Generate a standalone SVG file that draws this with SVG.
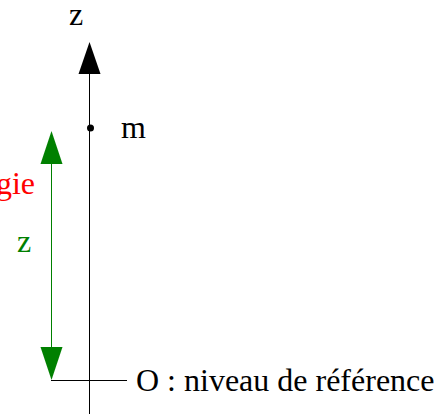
<svg xmlns="http://www.w3.org/2000/svg" width="445" height="414" viewBox="0 0 445 414">
<style>
text{font-family:"Liberation Serif","Times New Roman",serif;font-size:32px}
.ax{stroke:#000;stroke-width:1;fill:none}
.gr{stroke:#008000;stroke-width:1;fill:none}
</style>
<rect width="445" height="414" fill="#fff"/>
<g id="connectors">
<line class="ax" x1="89.5" y1="72" x2="89.5" y2="414"/>
<polygon points="89.5,42 78.5,74 100.5,74" fill="#000"/>
<line class="ax" x1="51" y1="380.5" x2="127" y2="380.5"/>
<line class="gr" x1="51.5" y1="162" x2="51.5" y2="348"/>
<polygon points="51.5,131 40.5,164 62.5,164" fill="#008000"/>
<polygon points="51.5,380 40.5,347 62.5,347" fill="#008000"/>
</g>
<g id="axis-label"><text x="69" y="25">z</text></g>
<g id="point-m">
<circle cx="90.5" cy="128" r="3.5" fill="#000"/>
<text x="121" y="138">m</text>
</g>
<g id="energy-label"><text x="35" y="194" fill="#ff0000" text-anchor="end">énergie</text></g>
<g id="height-label"><text x="17" y="252" fill="#008000">z</text></g>
<g id="origin-label"><text x="136" y="391">O : niveau de référence</text></g>
</svg>
